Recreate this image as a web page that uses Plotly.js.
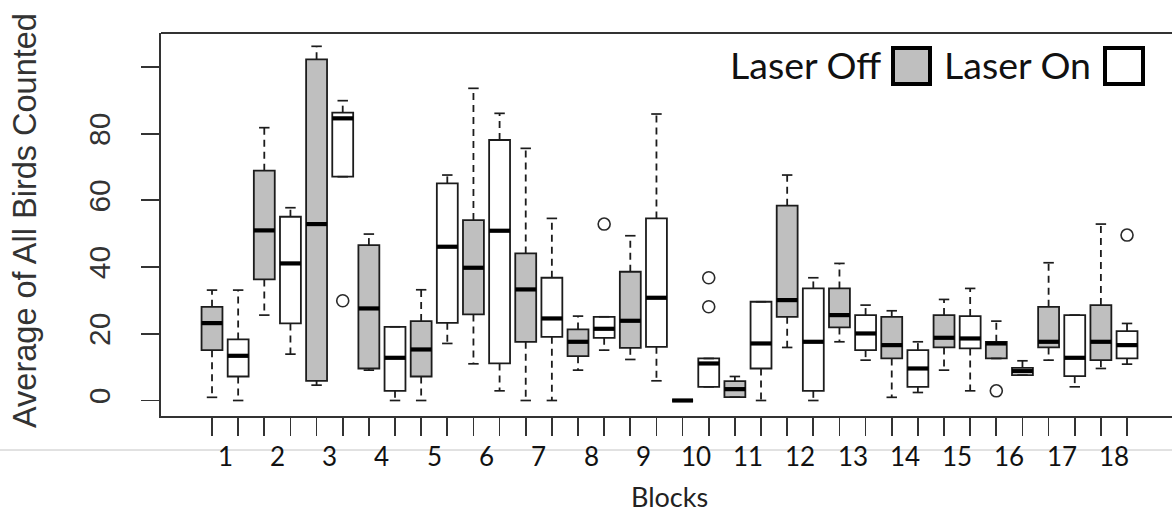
<!DOCTYPE html>
<html>
<head>
<meta charset="utf-8">
<script src="https://cdn.plot.ly/plotly-3.0.1.min.js"></script>
<style>
  html, body { margin: 0; padding: 0; background: #fff; overflow: hidden; }
  #chart { width: 1172px; height: 512px; }
</style>
</head>
<body>
<div id="chart"></div>
<script>
// ---------------- data ----------------
const blocks = ["1","2","3","4","5","6","7","8","9","10","11","12","13","14","15","16","17","18"];
const groups = ["Laser Off", "Laser On"];

// Laser Off: lower whisker, Q1, median, Q3, upper whisker
const offLower  = [0.95, 25.6, 4.6, 9.1, 0,    11.0, 0,    9.1,  12.3, 0, 1.0, 15.9, 17.6, 0.95, 9.1,  12.6, 12.1, 9.6];
const offQ1     = [15.1, 36.3, 5.9, 9.6, 7.2,  25.8, 17.6, 13.3, 15.8, 0, 1.0, 25.1, 21.9, 12.6, 15.9, 12.6, 15.9, 12.1];
const offMedian = [23.2, 51.0, 52.9, 27.6, 15.3, 39.8, 33.3, 17.6, 23.9, 0, 3.4, 30.1, 25.6, 16.6, 18.8, 17.1, 17.6, 17.6];
const offQ3     = [28.1, 68.9, 102.3, 46.6, 23.8, 54.1, 44.1, 21.3, 38.6, 0, 5.8, 58.4, 33.6, 25.1, 25.6, 17.6, 28.1, 28.6];
const offUpper  = [33.1, 81.8, 106.2, 49.9, 33.2, 93.6, 75.6, 25.3, 49.4, 0, 7.2, 67.6, 41.1, 26.9, 30.3, 23.8, 41.3, 52.9];

// Laser On
const onLower  = [0,    13.9, 67.1, 0,    17.1, 2.9,  0,    15.1, 5.9,  4.1,  0,    0,    12.1, 2.4,  2.9,  7.6, 4.1,  10.9];
const onQ1     = [7.2,  23.1, 67.1, 2.9,  23.3, 11.1, 19.1, 18.8, 16.1, 4.1,  9.6,  2.9,  15.1, 4.1,  15.6, 7.6, 7.3,  12.6];
const onMedian = [13.4, 41.1, 84.6, 12.8, 46.1, 50.9, 24.6, 21.5, 30.8, 11.1, 17.1, 17.6, 20.1, 9.6,  18.6, 8.8, 12.8, 16.6];
const onQ3     = [18.3, 55.1, 86.3, 22.1, 65.1, 78.1, 36.8, 25.1, 54.6, 12.6, 29.6, 33.6, 25.6, 15.1, 25.3, 9.8, 25.6, 20.8];
const onUpper  = [33.1, 57.8, 89.9, 22.1, 67.6, 86.1, 54.6, 25.1, 85.9, 12.6, 29.6, 36.8, 28.6, 17.6, 33.6, 11.9, 25.6, 23.1];

// outliers
const outBlock = [3, 8, 10, 10, 16, 18];
const outGroup = ["Laser On", "Laser On", "Laser On", "Laser On", "Laser Off", "Laser On"];
const outValue = [29.9, 52.9, 36.8, 28.1, 2.9, 49.6];

const yTickVals = [0, 20, 40, 60, 80, 100];
const yTickText = ["0", "20", "40", "60", "80", ""];

// ---------------- layout helpers ----------------
const PL = 161, PR = 1172, PT = 33, PB = 416;
const px = v => (v - PL) / (PR - PL);
const py = v => (PB - v) / (PB - PT);

const BOXW = 0.8, STAPLE = 0.2;
const pos = (b, g) => 2 * b + (g === "Laser On" ? 0 : -1);   // b is 1-based
const offPos = blocks.map((_, i) => pos(i + 1, "Laser Off"));
const onPos  = blocks.map((_, i) => pos(i + 1, "Laser On"));
const allTickPos = offPos.concat(onPos).sort((a, b) => a - b);

function whiskers(p, lo, q1, q3, hi) {
  const dx = [], dy = [], sx = [], sy = [];
  for (let i = 0; i < p.length; i++) {
    if (hi[i] > q3[i]) { dx.push(p[i], p[i], null); dy.push(q3[i], hi[i], null); }
    if (lo[i] < q1[i]) { dx.push(p[i], p[i], null); dy.push(q1[i], lo[i], null); }
    sx.push(p[i] - STAPLE, p[i] + STAPLE, null, p[i] - STAPLE, p[i] + STAPLE, null);
    sy.push(hi[i], hi[i], null, lo[i], lo[i], null);
  }
  return { dx, dy, sx, sy };
}
function medians(p, m) {
  const x = [], y = [];
  for (let i = 0; i < p.length; i++) { x.push(p[i] - BOXW / 2, p[i] + BOXW / 2, null); y.push(m[i], m[i], null); }
  return { x, y };
}

const LINE = "#1c1c1c";
const wOff = whiskers(offPos, offLower, offQ1, offQ3, offUpper);
const wOn  = whiskers(onPos, onLower, onQ1, onQ3, onUpper);
const mOff = medians(offPos, offMedian);
const mOn  = medians(onPos, onMedian);

const traces = [
  { type: "scatter", mode: "lines", x: wOff.dx.concat(wOn.dx), y: wOff.dy.concat(wOn.dy),
    line: { color: LINE, width: 1.8, dash: "7px,5px" }, hoverinfo: "skip", showlegend: false },
  { type: "scatter", mode: "lines", x: wOff.sx.concat(wOn.sx), y: wOff.sy.concat(wOn.sy),
    line: { color: LINE, width: 1.7 }, hoverinfo: "skip", showlegend: false },
  { type: "box", name: groups[0], x: offPos, q1: offQ1, median: offMedian, q3: offQ3,
    lowerfence: offQ1, upperfence: offQ3, width: BOXW, whiskerwidth: 0, boxpoints: false,
    fillcolor: "#bfbfbf", line: { color: LINE, width: 1.8 }, showlegend: false, hoverinfo: "skip" },
  { type: "box", name: groups[1], x: onPos, q1: onQ1, median: onMedian, q3: onQ3,
    lowerfence: onQ1, upperfence: onQ3, width: BOXW, whiskerwidth: 0, boxpoints: false,
    fillcolor: "#ffffff", line: { color: LINE, width: 1.8 }, showlegend: false, hoverinfo: "skip" },
  { type: "scatter", mode: "lines", x: mOff.x.concat(mOn.x), y: mOff.y.concat(mOn.y),
    line: { color: "#000", width: 4.2 }, hoverinfo: "skip", showlegend: false },
  { type: "scatter", mode: "markers", x: outBlock.map((b, i) => pos(b, outGroup[i])), y: outValue,
    marker: { symbol: "circle-open", size: 12, color: "#2a2a2a", line: { width: 1.6 } },
    hoverinfo: "skip", showlegend: false }
];

const annotations = blocks.map((b, i) => ({
  text: b, xref: "x", yref: "paper", x: 2 * (i + 1) - 0.5, y: py(456),
  xanchor: "center", yanchor: "middle", showarrow: false,
  font: { family: "Lato, 'Open Sans', sans-serif", size: 26, color: "#111" }
}));
annotations.push(
  { text: "Blocks", xref: "paper", yref: "paper", x: px(669), y: py(496), xanchor: "center", yanchor: "middle",
    showarrow: false, font: { family: "Lato, 'Open Sans', sans-serif", size: 27, color: "#222" } },
  { text: "Average of All Birds Counted", xref: "paper", yref: "paper", x: px(25), y: py(221), textangle: -90,
    xanchor: "center", yanchor: "middle", showarrow: false,
    font: { family: "'Liberation Sans', Arial, sans-serif", size: 32.5, color: "#333" } },
  { text: "Laser Off", xref: "paper", yref: "paper", x: px(728), y: py(65), xanchor: "left", yanchor: "middle",
    showarrow: false, font: { family: "Lato, 'Open Sans', sans-serif", size: 37.5, color: "#111" } },
  { text: "Laser On", xref: "paper", yref: "paper", x: px(942), y: py(65), xanchor: "left", yanchor: "middle",
    showarrow: false, font: { family: "Lato, 'Open Sans', sans-serif", size: 37.5, color: "#111" } }
);

const shapes = [
  { type: "line", xref: "paper", yref: "paper", x0: 0, x1: 1, y0: 1, y1: 1, line: { color: "#333", width: 1.8 } },
  { type: "line", xref: "paper", yref: "paper", x0: px(0), x1: px(1172), y0: py(450), y1: py(450),
    line: { color: "#c4c4c4", width: 1 }, layer: "below" },
  { type: "rect", xref: "paper", yref: "paper", x0: px(893), x1: px(930), y0: py(48), y1: py(84),
    fillcolor: "#bfbfbf", line: { color: "#000", width: 4 } },
  { type: "rect", xref: "paper", yref: "paper", x0: px(1105), x1: px(1143), y0: py(48), y1: py(84),
    fillcolor: "#fff", line: { color: "#000", width: 4 } }
];

const layout = {
  width: 1172, height: 512,
  margin: { l: PL, r: 1172 - PR, t: PT, b: 512 - PB, pad: 0 },
  paper_bgcolor: "#fff", plot_bgcolor: "#fff",
  showlegend: false, boxmode: "overlay",
  xaxis: {
    range: [-0.951, 37.72], showgrid: false, zeroline: false,
    showline: true, linecolor: "#333", linewidth: 1.8,
    ticks: "outside", ticklen: 18, tickwidth: 1.8, tickcolor: "#333",
    tickvals: allTickPos, showticklabels: false, automargin: false
  },
  yaxis: {
    range: [-4.65, 110.19], showgrid: false, zeroline: false,
    showline: true, linecolor: "#333", linewidth: 1.8,
    ticks: "outside", ticklen: 18, tickwidth: 1.8, tickcolor: "#333",
    tickvals: yTickVals, ticktext: yTickText, tickangle: -90,
    tickfont: { family: "'Liberation Sans', Arial, sans-serif", size: 30, color: "#333" },
    ticklabelstandoff: 19, automargin: false
  },
  annotations, shapes
};

Plotly.newPlot("chart", traces, layout, { staticPlot: true, displayModeBar: false });
</script>
</body>
</html>
